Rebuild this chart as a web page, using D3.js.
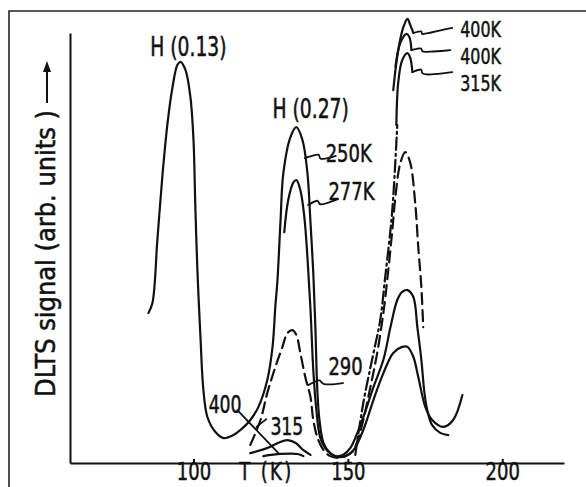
<!doctype html>
<meta charset="utf-8">
<style>
    body { margin: 0; background: #fff; }
    svg { display: block; }
    text { font-family: "DejaVu Sans Condensed", "DejaVu Sans", sans-serif; fill: #111; stroke: #111; stroke-width: 0.5; }
    .curve { fill: none; stroke: #111; stroke-width: 2.2; stroke-linecap: round; stroke-linejoin: round; }
    .leader { fill: none; stroke: #111; stroke-width: 1.8; stroke-linecap: round; }
    .axis path, .axis line { fill: none; stroke: #111; stroke-width: 2; }
</style>
<body>
<script src="https://d3js.org/d3.v7.min.js"></script>
<script>
    // temperature ticks (K)
    const tempTicks = [100, 150, 200];

    // DLTS spectra, [T (K), signal (arb. units)]
    const curve250K = [
        [85.4, 34.9], [86.7, 37.2], [88.3, 51.9], [90.0, 67.4], [91.6, 79.1], [93.2, 87.4], [94.8, 92.6],
        [95.8, 93.3], [97.4, 91.4], [99.0, 85.1], [100.0, 75.1], [100.6, 59.5], [101.3, 44.2], [102.3, 28.6],
        [103.2, 17.0], [104.5, 10.7], [107.1, 7.2], [109.7, 5.8], [112.9, 6.5], [115.9, 8.1], [118.4, 10.0],
        [121.0, 13.0], [123.9, 19.3], [125.6, 27.0], [126.5, 36.3], [127.2, 42.6], [128.2, 56.5], [129.1, 67.4],
        [131.4, 75.8], [133.3, 78.1], [135.3, 75.1], [136.9, 67.4], [137.9, 55.8], [138.8, 44.2], [139.5, 30.9],
        [140.1, 17.0], [140.8, 10.0], [142.1, 4.7], [144.3, 2.3], [146.9, 1.4], [149.2, 1.6], [151.8, 3.0],
        [155.0, 7.7], [158.3, 14.7], [161.5, 20.9], [164.7, 25.6], [167.6, 27.0], [169.3, 27.0], [171.2, 24.7],
        [172.8, 20.0], [175.1, 13.0], [177.3, 10.0], [180.9, 8.4], [184.1, 10.0], [187.1, 15.8]
    ];
    const curve277K = [
        [129.4, 53.7], [130.7, 61.2], [132.4, 65.3], [133.3, 65.8], [134.6, 63.5], [135.9, 57.2], [136.9, 47.9],
        [137.9, 35.6], [138.8, 21.6], [139.8, 12.3], [141.1, 5.8], [143.4, 2.8], [146.0, 1.6], [148.5, 1.9],
        [150.8, 3.5], [155.0, 10.7], [158.3, 17.7], [161.5, 24.0], [163.8, 31.6], [166.0, 37.9], [167.6, 39.8],
        [169.3, 40.2], [171.2, 38.6], [172.5, 31.6], [173.8, 24.0], [174.8, 16.3], [175.7, 12.3], [177.3, 8.8],
        [179.9, 7.0], [182.5, 6.5]
    ];
    const curve290K = [
        [118.4, 4.2], [121.7, 10.0], [123.9, 16.3], [126.5, 22.3], [128.8, 27.0], [130.4, 30.2], [132.0, 30.9],
        [133.3, 29.8], [134.6, 25.6], [136.2, 20.0], [137.9, 15.3], [138.8, 10.0], [140.1, 6.0], [142.1, 3.0],
        [144.3, 1.6], [146.6, 1.2], [149.2, 1.6], [151.5, 2.6], [153.4, 5.8], [155.0, 10.0], [157.3, 17.7],
        [159.5, 25.6], [161.5, 34.9], [163.1, 44.9], [164.4, 54.2], [165.4, 61.9], [167.0, 69.8], [168.6, 72.3],
        [170.2, 69.8], [171.8, 60.5], [172.8, 50.2], [173.8, 40.9], [174.4, 31.6]
    ];
    const bump315K = [[118.4, 2.3], [123.9, 3.5], [127.5, 4.7], [130.4, 5.3], [133.0, 4.7], [135.6, 3.0], [137.9, 1.9]];
    const bump400K = [[122.6, 1.6], [128.2, 2.1], [133.7, 2.1], [135.6, 1.6]];
    // rising flank of the 315 K / 400 K peaks (dash-dot) and their off-scale tops
    const rise315K = [
        [152.4, 1.9], [155.0, 14.0], [158.3, 25.6], [160.5, 33.3], [162.1, 43.3], [163.8, 54.2], [164.7, 61.9], [166.0, 78.6]
    ];
    const topA400K = [[164.7, 86.7], [166.3, 96.0], [168.0, 101.4], [169.3, 103.3], [170.2, 101.9], [171.2, 100.0]];
    const topB400K = [[165.4, 92.1], [167.0, 97.7], [169.0, 99.8], [169.9, 99.1], [170.6, 96.0]];
    const top315K = [[165.7, 78.6], [166.3, 88.4], [167.6, 93.7], [169.3, 95.3], [170.2, 94.2], [170.9, 90.9]];

    // annotations: text, [T, signal] of the baseline start, font size
    const labels = [
        ['H (0.13)', 86.0, 94.7, 26], ['H (0.27)', 125.6, 80.2, 26],
        ['250K', 142.8, 70.0, 25], ['277K', 143.7, 61.2, 25], ['290', 143.7, 20.5, 25],
        ['400', 104.9, 11.6, 24], ['315', 124.9, 6.5, 24],
        ['400K', 186.4, 99.0, 22], ['400K', 186.4, 92.8, 22], ['315K', 186.4, 86.6, 22]
    ];
    const leaders = [
        [[136.1, 70.9], [141.6, 72.3], [140.0, 70.2], [146.1, 71.4]],
        [[137.1, 60.0], [141.0, 61.6], [140.0, 59.5], [146.8, 61.4]],
        [[137.1, 18.1], [141.6, 19.8], [141.0, 17.9], [148.4, 18.6]],
        [[114.2, 12.3], [127.5, 2.3]],
        [[120.4, 8.4], [123.6, 10.2]],
        [[171.2, 100.0], [174.4, 100.7], [173.5, 99.5], [176.1, 100.0], [183.8, 101.2]],
        [[170.6, 96.0], [174.4, 96.7], [173.5, 95.6], [176.1, 95.6], [183.2, 96.0]],
        [[170.9, 90.9], [174.4, 91.9], [173.5, 90.5], [176.1, 90.2], [183.8, 90.9]]
    ];

    const series = [
        {data: curve250K, dash: null},
        {data: curve277K, dash: null},
        {data: curve290K, dash: '11,6'},
        {data: bump315K, dash: null},
        {data: bump400K, dash: null},
        {data: rise315K, dash: '12,4,2,4'},
        {data: topA400K, dash: null},
        {data: topB400K, dash: null},
        {data: top315K, dash: null}
    ];

    const width = 586, height = 487;
    const narrow = 'scale(0.8,1)';
    const x = d3.scaleLinear().domain([60, 220]).range([70, 564]);
    const y = d3.scaleLinear().domain([0, 100]).range([463, 33]);

    const svg = d3.select('body').append('svg')
        .attr('width', width)
        .attr('height', height);

    // frame of the scanned figure
    svg.append('path')
        .attr('d', 'M9,487V11H586')
        .attr('fill', 'none')
        .attr('stroke', '#222')
        .attr('stroke-width', 1.6);

    // x axis, ticks pointing inward
    const xAxis = svg.append('g')
        .attr('class', 'axis')
        .attr('transform', `translate(0, ${y(0)})`)
        .call(d3.axisBottom(x).tickValues(tempTicks).tickSizeInner(-4).tickSizeOuter(0));
    xAxis.selectAll('text')
        .attr('dy', null)
        .attr('y', 17)
        .attr('transform', narrow)
        .attr('fill', '#111')
        .style('font-size', '25px');
    xAxis.select('.domain').attr('stroke-width', 2.2);

    svg.append('text')
        .attr('transform', `translate(${x(114.8)}, 480) ${narrow}`)
        .style('font-size', '25px')
        .attr('letter-spacing', 3)
        .text('T (K)');

    // y axis: plain line
    svg.append('g')
        .attr('class', 'axis')
        .attr('transform', `translate(${x(60)}, 0)`)
        .call(d3.axisLeft(y).tickValues([]).tickSizeOuter(0));

    svg.append('text')
        .attr('transform', 'translate(55, 397) rotate(-90)')
        .attr('textLength', 287)
        .attr('lengthAdjust', 'spacingAndGlyphs')
        .style('font-size', '27px')
        .text('DLTS signal  (arb. units )');
    // arrow after the axis title
    svg.append('line')
        .attr('x1', 47).attr('x2', 47).attr('y1', 103).attr('y2', 68)
        .attr('stroke', '#111').attr('stroke-width', 2);
    svg.append('path')
        .attr('d', 'M47,61L43,72L51,72Z')
        .attr('fill', '#111');

    const line = d3.line()
        .x(d => x(d[0]))
        .y(d => y(d[1]))
        .curve(d3.curveCatmullRom.alpha(0.5));

    svg.selectAll('.curve')
        .data(series)
        .enter()
        .append('path')
        .attr('class', 'curve')
        .attr('d', d => line(d.data))
        .attr('stroke-dasharray', d => d.dash);

    const leaderLine = d3.line()
        .x(d => x(d[0]))
        .y(d => y(d[1]))
        .curve(d3.curveBasis);

    svg.selectAll('.leader')
        .data(leaders)
        .enter()
        .append('path')
        .attr('class', 'leader')
        .attr('d', leaderLine);

    svg.selectAll('.label')
        .data(labels)
        .enter()
        .append('text')
        .attr('class', 'label')
        .attr('transform', d => `translate(${x(d[1])}, ${y(d[2])}) ${narrow}`)
        .style('font-size', d => d[3] + 'px')
        .text(d => d[0]);
</script>
